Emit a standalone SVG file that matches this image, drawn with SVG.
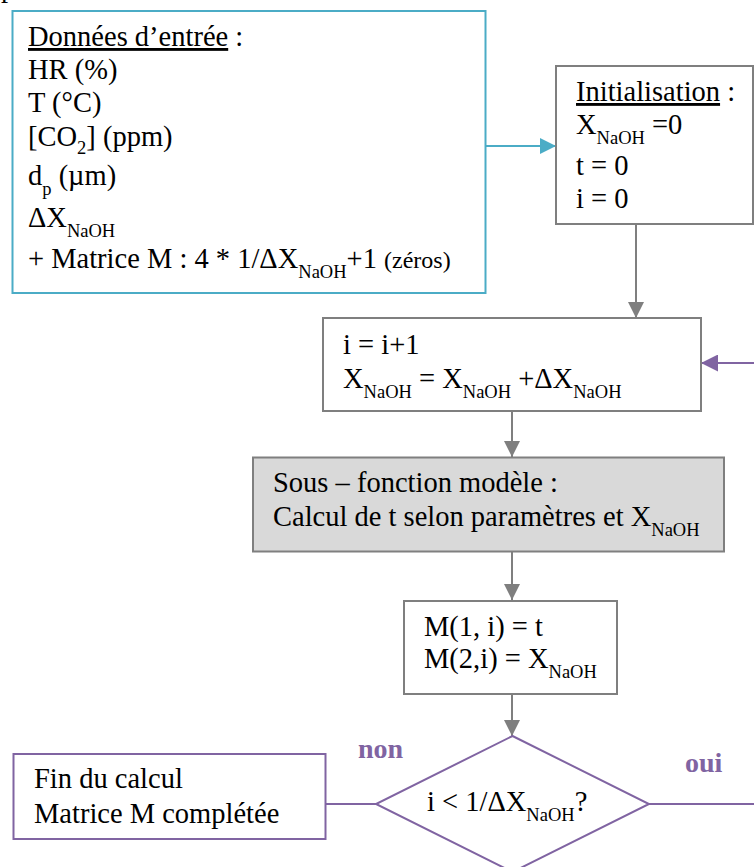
<svg xmlns="http://www.w3.org/2000/svg" width="754" height="867" viewBox="0 0 754 867">
<style>
  text { font-family: "Liberation Serif", "DejaVu Serif", serif; font-size: 28.5px; fill: #000; }
  .sub { font-size: 18.5px; }
  .small { font-size: 24px; }
  .lbl { fill: #8064A2; font-weight: bold; font-size: 28px; }
  .teal { fill: #fff; stroke: #4BACC6; stroke-width: 2; }
  .gray { fill: #fff; stroke: #7F7F7F; stroke-width: 2; }
  .grayfill { fill: #D9D9D9; stroke: #7F7F7F; stroke-width: 2; }
  .purple { fill: #fff; stroke: #8064A2; stroke-width: 2; }
  .c-teal { stroke: #4BACC6; stroke-width: 2; fill: none; }
  .c-gray { stroke: #7F7F7F; stroke-width: 2; fill: none; }
  .c-purple { stroke: #8064A2; stroke-width: 2; fill: none; }
</style>
<defs>
  <marker id="ah-teal" viewBox="0 0 16 16" refX="16" refY="8" markerWidth="16" markerHeight="16" markerUnits="userSpaceOnUse" orient="auto">
    <path d="M0,0 L16,8 L0,16 z" fill="#4BACC6"/>
  </marker>
  <marker id="ah-gray" viewBox="0 0 16 16" refX="16" refY="8" markerWidth="16" markerHeight="16" markerUnits="userSpaceOnUse" orient="auto">
    <path d="M0,0 L16,8 L0,16 z" fill="#7F7F7F"/>
  </marker>
  <marker id="ah-purple" viewBox="0 0 16 16" refX="16" refY="8" markerWidth="17" markerHeight="17" markerUnits="userSpaceOnUse" orient="auto">
    <path d="M0,0 L16,8 L0,16 z" fill="#8064A2"/>
  </marker>
</defs>

<text x="1" y="-3">p</text>

<g id="connectors">
  <line class="c-teal" x1="486" y1="146" x2="556" y2="146" marker-end="url(#ah-teal)"/>
  <line class="c-gray" x1="636" y1="224" x2="636" y2="318" marker-end="url(#ah-gray)"/>
  <line class="c-gray" x1="512" y1="411" x2="512" y2="457" marker-end="url(#ah-gray)"/>
  <line class="c-gray" x1="512" y1="552" x2="512" y2="600" marker-end="url(#ah-gray)"/>
  <line class="c-gray" x1="512" y1="694" x2="512" y2="736" marker-end="url(#ah-gray)"/>
  <line class="c-purple" x1="376" y1="804" x2="325.5" y2="804"/>
  <path class="c-purple" d="M649,804 L762,804 L762,363 L701,363" marker-end="url(#ah-purple)"/>
  <text class="lbl" x="358" y="758">non</text>
  <text class="lbl" x="685" y="772">oui</text>
</g>

<g id="input">
  <rect class="teal" x="12.5" y="11" width="473" height="282"/>
  <text x="28" y="46"><tspan text-decoration="underline">Données d’entrée</tspan> :</text>
  <text x="28" y="79">HR (%)</text>
  <text x="28" y="112">T (°C)</text>
  <text x="28" y="146">[CO<tspan class="sub" dy="8">2</tspan><tspan dy="-8">] (ppm)</tspan></text>
  <text x="28" y="185">d<tspan class="sub" dy="10">p</tspan><tspan dy="-10"> (µm)</tspan></text>
  <text x="28" y="227">ΔX<tspan class="sub" dy="10">NaOH</tspan></text>
  <text x="28" y="268">+ Matrice M : 4 * 1/ΔX<tspan class="sub" dy="10">NaOH</tspan><tspan dy="-10">+1 </tspan><tspan class="small">(zéros)</tspan></text>
</g>

<g id="init">
  <rect class="gray" x="556" y="66" width="197" height="158"/>
  <text x="576" y="101"><tspan text-decoration="underline">Initialisation</tspan> :</text>
  <text x="576" y="134">X<tspan class="sub" dy="10">NaOH</tspan><tspan dy="-10"> =0</tspan></text>
  <text x="576" y="175">t = 0</text>
  <text x="576" y="208">i = 0</text>
</g>

<g id="increment">
  <rect class="gray" x="323" y="318" width="378" height="93"/>
  <text x="343" y="354">i = i+1</text>
  <text x="343" y="388">X<tspan class="sub" dy="10">NaOH</tspan><tspan dy="-10"> = X</tspan><tspan class="sub" dy="10">NaOH</tspan><tspan dy="-10"> +ΔX</tspan><tspan class="sub" dy="10">NaOH</tspan></text>
</g>

<g id="model">
  <rect class="grayfill" x="253" y="457.5" width="471" height="94"/>
  <text x="273" y="492">Sous – fonction modèle :</text>
  <text x="273" y="526">Calcul de t selon paramètres et X<tspan class="sub" dy="10">NaOH</tspan></text>
</g>

<g id="store">
  <rect class="gray" x="404" y="601" width="213" height="93"/>
  <text x="424" y="636">M(1, i) = t</text>
  <text x="424" y="668">M(2,i) = X<tspan class="sub" dy="10">NaOH</tspan></text>
</g>

<g id="decision">
  <polygon class="purple" points="512.5,736 649,804 512.5,872 376,804"/>
  <text x="427" y="811">i &lt; 1/ΔX<tspan class="sub" dy="10">NaOH</tspan><tspan dy="-10">?</tspan></text>
</g>

<g id="end">
  <rect class="purple" x="13.5" y="754" width="312" height="85"/>
  <text x="34" y="788">Fin du calcul</text>
  <text x="34" y="823">Matrice M complétée</text>
</g>
</svg>
